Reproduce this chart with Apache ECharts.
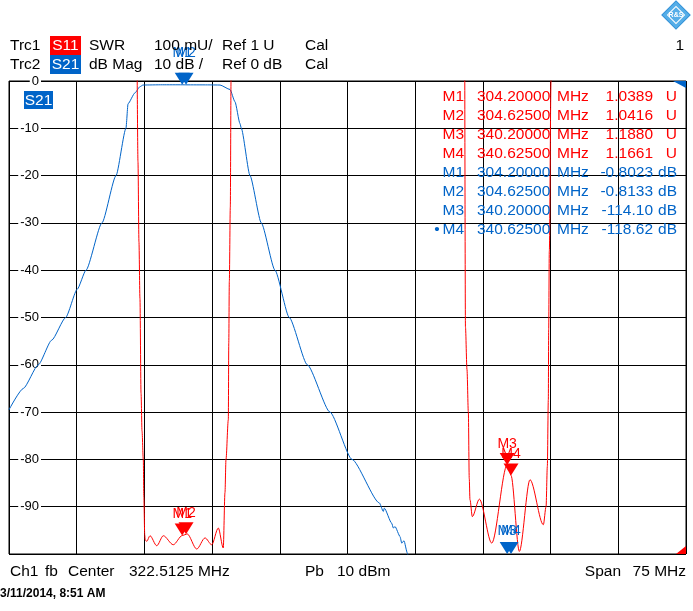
<!DOCTYPE html>
<html>
<head>
<meta charset="utf-8">
<script src="https://cdn.jsdelivr.net/npm/echarts/dist/echarts.min.js"></script>
<style>
html, body { margin: 0; padding: 0; background: #fff; }
#chart { width: 693px; height: 611px; }
</style>
</head>
<body>
<div id="chart"></div>
<script>
// sweep settings
var fCenter = 322.5125;
var fSpan = 75;
var fStart = fCenter - fSpan / 2;

// Trc2 S21, dB Mag
var s21Freq = [285.0125, 286.6, 288.26, 289.74, 291.29, 292.58, 293.54, 295.31, 296.87, 297.97, 298.2, 298.97, 299.52, 299.86, 302.0, 304.2, 304.625, 307.0, 308.39,
               309.5, 310.05, 310.6, 310.75, 311.71, 312.96, 314.48, 316.06, 318.06, 320.57, 323.01, 326.04, 326.48, 326.59, 327.41, 327.59, 327.78, 328.33, 328.52, 328.77, 329.14, 329.4,
               340.2, 340.625];
var s21Db   = [-69.5, -65, -60, -54.8, -50, -44, -40, -30, -20, -10, -4.8, -2.5, -1.2, -0.85, -0.8, -0.8023, -0.8133, -0.82, -0.85,
               -1.8, -4.4, -9, -10, -20, -30, -40, -50, -60, -70, -80, -89.2, -91.0, -90.3, -93.5, -94.5, -94.2, -96.3, -97.7, -97.2, -99.8, -102,
               -114.10, -118.62];

// Trc1 S11, SWR - lower band
var s11aFreq = [299.2, 299.3, 299.41, 299.52, 299.64, 299.75, 299.89, 299.95, 300.05, 300.1, 300.27, 300.63, 301.38, 302.11, 303.21, 304.2, 304.625, 304.75,
                305.81, 306.73, 307.47, 308.2, 308.75, 308.94, 309.05, 309.31, 309.36, 309.42, 309.53, 309.61, 309.66];
var s11aSwr  = [2.05, 1.83, 1.66, 1.54, 1.34, 1.26, 1.2, 1.12, 1.04, 1.03, 1.0266, 1.0386, 1.0175, 1.0386, 1.0196, 1.0389, 1.0416, 1.0425,
                1.0105, 1.034, 1.0196, 1.055, 1.0127, 1.13, 1.2, 1.284, 1.446, 1.576, 1.733, 2.0, 2.05];
// Trc1 S11, SWR - upper band
var s11bFreq = [335.5, 335.58, 335.75, 335.9, 336.0, 336.08, 336.34, 337.12, 338.49, 340.2, 340.3, 340.625, 341.55, 342.73, 344.21, 344.51, 344.65, 344.76, 344.8, 344.87, 345.06, 345.1];
var s11bSwr  = [2.05, 1.48, 1.39, 1.3, 1.16, 1.115, 1.079, 1.116, 1.023, 1.188, 1.19, 1.1661, 1.0055, 1.157, 1.062, 1.10, 1.185, 1.326, 1.475, 1.64, 2.0, 2.05];

// markers
var markerNames = ['M1', 'M2', 'M3', 'M4'];
var markerFreq  = [304.2, 304.625, 340.2, 340.625];
var markerSwr   = [1.0389, 1.0416, 1.1880, 1.1661];
var markerDb    = [-0.8023, -0.8133, -114.10, -118.62];

var RED = '#ff0000';
var BLUE = '#0064c8';
var FONT = '"Liberation Sans", Arial, sans-serif';

function pairs(fs, vs) {
    var out = [];
    for (var i = 0; i < fs.length; i++) out.push([fs[i] - fStart, vs[i]]);
    return out;
}
function fmtVal(v) {
    return Math.abs(v) < 1 ? v.toFixed(4) : v.toPrecision(5);
}

var chart = echarts.init(document.getElementById('chart'));

// header, footer, marker table
var g = [];
function txt(x, y, s, color, align, font) {
    g.push({
        type: 'text', x: x, y: y, z: 100,
        style: { text: s, fill: color || '#000', align: align || 'left', verticalAlign: 'middle',
                 font: font || ('15.5px ' + FONT) }
    });
}
function box(x, y, w, h, color, s) {
    g.push({ type: 'rect', z: 99, shape: { x: x, y: y, width: w, height: h }, style: { fill: color } });
    txt(x + w / 2, y + h / 2 + 0.5, s, '#fff', 'center');
}

txt(10, 46, 'Trc1');
box(50, 36, 31, 19, RED, 'S11');
txt(89, 46, 'SWR');
txt(154, 46, '100 mU/');
txt(222, 46, 'Ref 1 U');
txt(305, 46, 'Cal');
txt(10, 65, 'Trc2');
box(50, 55, 31, 19, BLUE, 'S21');
txt(89, 65, 'dB Mag');
txt(154, 65, '10 dB /');
txt(222, 65, 'Ref 0 dB');
txt(305, 65, 'Cal');
txt(684, 46, '1', '#000', 'right');

// R&S logo
g.push({ type: 'rect', z: 99, x: 676, y: 15, rotation: Math.PI / 4,
         shape: { x: -10, y: -10, width: 20, height: 20 }, style: { fill: '#55aee8', stroke: '#2f8fd6', lineWidth: 1 } });
g.push({ type: 'rect', z: 99, x: 676, y: 15, rotation: Math.PI / 4,
         shape: { x: -6, y: -6, width: 12, height: 12 }, style: { fill: 'none', stroke: '#fff', lineWidth: 1 } });
txt(676, 15, 'R&S', '#fff', 'center', 'bold 7px ' + FONT);

// trace label inside the diagram
box(24, 91, 29, 18, BLUE, 'S21');

// corner indicators
g.push({ type: 'polygon', z: 99, shape: { points: [[673, 81], [686, 81], [686, 88]] }, style: { fill: BLUE } });
g.push({ type: 'polygon', z: 99, shape: { points: [[686, 546], [686, 554], [676, 554]] }, style: { fill: RED } });

// marker info table
for (var i = 0; i < markerNames.length * 2; i++) {
    var k = i % 4, isS21 = i >= 4;
    var y = 96.5 + i * 19;
    var col = isS21 ? BLUE : RED;
    if (isS21 && k === 3) txt(437, y, '•', col, 'center');
    txt(464, y, markerNames[k], col, 'right');
    txt(477, y, markerFreq[k].toFixed(5), col, 'left');
    txt(557, y, 'MHz', col, 'left');
    txt(653, y, fmtVal(isS21 ? markerDb[k] : markerSwr[k]), col, 'right');
    txt(677, y, isS21 ? 'dB' : 'U', col, 'right');
}

// footer
txt(10, 572, 'Ch1');
txt(45, 572, 'fb');
txt(68, 572, 'Center');
txt(129, 572, fCenter.toFixed(4) + ' MHz');
txt(305, 572, 'Pb');
txt(337, 572, '10 dBm');
txt(621, 572, 'Span', '#000', 'right');
txt(686, 572, fSpan + ' MHz', '#000', 'right');
txt(0, 594, '3/11/2014, 8:51 AM', '#000', 'left', 'bold 12px ' + FONT);

var tri = 'path://M0,0L15,0L7.5,12Z';
var redMarks = [], blueMarks = [];
for (var j = 0; j < markerNames.length; j++) {
    redMarks.push({ name: markerNames[j], value: [markerFreq[j] - fStart, markerSwr[j]] });
    blueMarks.push({ name: markerNames[j],
                     value: [markerFreq[j] - fStart, Math.max(-100, Math.min(0, markerDb[j]))],
                     label: { distance: markerDb[j] > -100 ? 13 : 4 } });
}

var option = {
    animation: false,
    backgroundColor: '#fff',
    textStyle: { fontFamily: FONT },
    grid: { left: 9, top: 81, width: 677, height: 473, show: true,
            borderColor: '#000', borderWidth: 1, backgroundColor: 'transparent' },
    xAxis: {
        type: 'value', min: 0, max: fSpan, interval: fSpan / 10,
        axisLine: { show: false }, axisTick: { show: false }, axisLabel: { show: false },
        splitLine: { show: true, lineStyle: { color: '#000', width: 1 } }
    },
    yAxis: [{
        type: 'value', min: -100, max: 0, interval: 10,
        axisLine: { show: false }, axisTick: { show: false },
        axisLabel: { inside: true, align: 'right', margin: 32, color: '#000', fontSize: 13,
                     fontFamily: FONT, backgroundColor: '#fff', padding: [0, 2, 0, 2], showMinLabel: false },
        splitLine: { show: true, lineStyle: { color: '#000', width: 1 } }
    }, {
        type: 'value', min: 1, max: 2, show: false, splitLine: { show: false }
    }],
    series: [{
        name: 'S21', type: 'line', yAxisIndex: 0, data: pairs(s21Freq, s21Db),
        symbol: 'none', smooth: 0.2, smoothMonotone: 'x', lineStyle: { color: BLUE, width: 1 }, z: 3
    }, {
        name: 'S11', type: 'line', yAxisIndex: 1, data: pairs(s11aFreq, s11aSwr),
        symbol: 'none', smooth: 0.3, smoothMonotone: 'x', lineStyle: { color: RED, width: 1 }, z: 4
    }, {
        name: 'S11', type: 'line', yAxisIndex: 1, data: pairs(s11bFreq, s11bSwr),
        symbol: 'none', smooth: 0.3, smoothMonotone: 'x', lineStyle: { color: RED, width: 1 }, z: 4
    }, {
        type: 'scatter', yAxisIndex: 1, data: redMarks, clip: false,
        symbol: tri, symbolSize: [15, 12], symbolOffset: [0, -6],
        itemStyle: { color: RED, opacity: 1 },
        label: { show: true, position: 'top', distance: 2, formatter: '{b}', color: RED, fontSize: 14, fontFamily: FONT },
        z: 5
    }, {
        type: 'scatter', yAxisIndex: 0, data: blueMarks, clip: false,
        symbol: tri, symbolSize: [15, 12], symbolOffset: [0, -6],
        itemStyle: { color: BLUE, opacity: 1 },
        label: { show: true, position: 'top', formatter: '{b}', color: BLUE, fontSize: 14, fontFamily: FONT },
        z: 5
    }],
    graphic: g
};
chart.setOption(option);
</script>
</body>
</html>
